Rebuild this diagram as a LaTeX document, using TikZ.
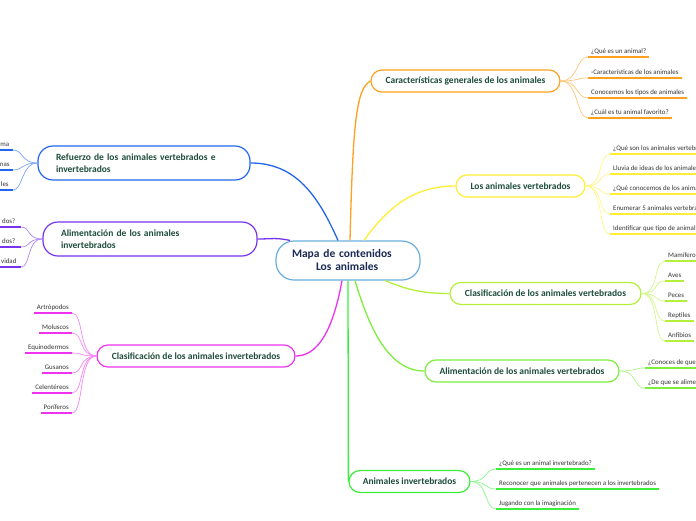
\documentclass[tikz,border=0pt]{standalone}
\usepackage{fontspec}
\setmainfont{Carlito}
\usepackage{tikz}

\definecolor{cBlue}{HTML}{2266EE}
\definecolor{cPurple}{HTML}{7733EE}
\definecolor{cMag}{HTML}{EE33EE}
\definecolor{cOrange}{HTML}{FFA01E}
\definecolor{cYellow}{HTML}{FFEE33}
\definecolor{cLime}{HTML}{B2F03A}
\definecolor{cLgreen}{HTML}{7CEE3C}
\definecolor{cGreen}{HTML}{3AEE3A}
\definecolor{cCenter}{HTML}{6AAEE0}
\definecolor{tGreen}{HTML}{1E4D3B}
\definecolor{tNavy}{HTML}{1B2A55}
\definecolor{tLeaf}{HTML}{333333}

\tikzset{
  rama/.style={draw=#1, line width=1.2pt, rounded corners=11pt, fill=white,
    minimum height=22pt, inner xsep=0pt, inner ysep=0pt,
    font=\fontsize{9.5}{12}\selectfont\bfseries, text=tGreen},
  rama2/.style={rama=#1, minimum height=34pt, inner xsep=18pt, align=left, rounded corners=15pt},
  centro/.style={draw=cCenter, line width=1.2pt, rounded corners=18pt, fill=white,
    minimum height=39pt, inner xsep=16pt, text width=112pt, align=left,
    font=\fontsize{11.5}{13}\selectfont\bfseries, text=tNavy},
  hoja/.style={inner xsep=3pt, inner ysep=1.5pt, text height=5pt, text depth=1.5pt,
    font=\fontsize{6.9}{8}\selectfont, text=tLeaf,
    append after command={(\tikzlastnode.south west) edge[draw=#1, line width=1.8pt] (\tikzlastnode.south east)}},
  tronco/.style={draw=#1, line width=1.3pt},
  rami/.style={draw=#1!60, line width=0.7pt}
}

\begin{document}
\begin{tikzpicture}[x=1pt,y=-1pt]
\useasboundingbox (0,0) rectangle (696,520);
\clip (0,0) rectangle (696,520);

%% centro y ramas
\node[centro] (mapa) at (348,260.5) {Mapa de contenidos\\\hspace*{24pt}Los animales};
\node[rama=cOrange, minimum width=189pt] (carac) at (465.5,81) {Características generales de los animales};
\node[rama=cYellow, minimum width=129pt] (vert) at (520.5,186) {Los animales vertebrados};
\node[rama=cLime, minimum width=191pt] (clasV) at (545.5,293.5) {Clasificación de los animales vertebrados};
\node[rama=cLgreen, minimum width=194pt] (alimV) at (522,371) {Alimentación de los animales vertebrados};
\node[rama=cGreen, minimum width=121pt] (invert) at (409.5,481.5) {Animales invertebrados};
\node[rama=cMag, minimum width=198pt] (clasI) at (196,356) {Clasificación de los animales invertebrados};
\node[rama2=cPurple, text width=178pt] (alimI) at (150,239) {Alimentación de los animales\\invertebrados};
\node[rama2=cBlue, text width=176pt] (refu) at (144,163) {Refuerzo de los animales vertebrados e\\invertebrados};

\draw[tronco=cBlue] ([xshift=-10pt]mapa.north) .. controls +(-20,-45) and +(45,0) .. (refu.east);
\draw[tronco=cPurple] ([xshift=-58pt]mapa.north) .. controls +(-15,-3) and +(15,0) .. (alimI.east);
\draw[tronco=cOrange] ([xshift=2pt]mapa.north) .. controls +(3,-120) and +(-14,8) .. (carac.west);
\draw[tronco=cYellow] ([xshift=16pt]mapa.north) .. controls +(25,-35) and +(-40,0) .. (vert.west);
\draw[tronco=cLime] ([xshift=37pt]mapa.south) .. controls +(20,8) and +(-30,0) .. (clasV.west);
\draw[tronco=cLgreen] ([xshift=7pt]mapa.south) .. controls +(15,50) and +(-35,0) .. (alimV.west);
\draw[tronco=cGreen] (mapa.south) -- (invert.west);
\draw[tronco=cMag] ([xshift=-6pt]mapa.south) .. controls +(-10,55) and +(20,0) .. (clasI.east);

%% hojas derecha
\node[hoja=cOrange, anchor=south west] (carac1) at (588,57) {¿Qué es un animal?};
\node[hoja=cOrange, anchor=south west] (carac2) at (588,78) {-Características de los animales};
\node[hoja=cOrange, anchor=south west] (carac3) at (588,98) {Conocemos los tipos de animales};
\node[hoja=cOrange, anchor=south west] (carac4) at (588,118) {¿Cuál es tu animal favorito?};
\foreach \h in {carac1,carac2,carac3,carac4}
  \draw[rami=cOrange] (carac.east) .. controls +(18,0) and +(-12,0) .. (\h.south west);

\node[hoja=cYellow, anchor=south west] (vert1) at (610,154) {¿Qué son los animales vertebrados?};
\node[hoja=cYellow, anchor=south west] (vert2) at (610,174) {Lluvia de ideas de los animales vertebrados};
\node[hoja=cYellow, anchor=south west] (vert3) at (610,194) {¿Qué conocemos de los animales vertebrados?};
\node[hoja=cYellow, anchor=south west] (vert4) at (610,214) {Enumerar 5 animales vertebrados};
\node[hoja=cYellow, anchor=south west] (vert5) at (610,234) {Identificar que tipo de animal es};
\foreach \h in {vert1,vert2,vert3,vert4,vert5}
  \draw[rami=cYellow] (vert.east) .. controls +(18,0) and +(-12,0) .. (\h.south west);

\node[hoja=cLime, anchor=south west] (clasV1) at (665,261) {Mamíferos};
\node[hoja=cLime, anchor=south west] (clasV2) at (665,281) {Aves};
\node[hoja=cLime, anchor=south west] (clasV3) at (665,301) {Peces};
\node[hoja=cLime, anchor=south west] (clasV4) at (665,321) {Reptiles};
\node[hoja=cLime, anchor=south west] (clasV5) at (665,341) {Anfibios};
\foreach \h in {clasV1,clasV2,clasV3,clasV4,clasV5}
  \draw[rami=cLime] (clasV.east) .. controls +(18,0) and +(-12,0) .. (\h.south west);

\node[hoja=cLgreen, anchor=south west] (alimV1) at (645,368) {¿Conoces de que se alimentan?};
\node[hoja=cLgreen, anchor=south west] (alimV2) at (645,388) {¿De que se alimentan?};
\foreach \h in {alimV1,alimV2}
  \draw[rami=cLgreen] (alimV.east) .. controls +(18,0) and +(-12,0) .. (\h.south west);

\node[hoja=cGreen, anchor=south west] (invert1) at (496,469) {¿Qué es un animal invertebrado?};
\node[hoja=cGreen, anchor=south west] (invert2) at (496,489) {Reconocer que animales pertenecen a los invertebrados};
\node[hoja=cGreen, anchor=south west] (invert3) at (496,509) {Jugando con la imaginación};
\foreach \h in {invert1,invert2,invert3}
  \draw[rami=cGreen] (invert.east) .. controls +(18,0) and +(-12,0) .. (\h.south west);

%% hojas izquierda
\node[hoja=cMag, anchor=south east] (clasI1) at (72,313) {Artrópodos};
\node[hoja=cMag, anchor=south east] (clasI2) at (72,333) {Moluscos};
\node[hoja=cMag, anchor=south east] (clasI3) at (72,353) {Equinodermos};
\node[hoja=cMag, anchor=south east] (clasI4) at (72,373) {Gusanos};
\node[hoja=cMag, anchor=south east] (clasI5) at (72,393) {Celentéreos};
\node[hoja=cMag, anchor=south east] (clasI6) at (72,413) {Poríferos};
\foreach \h in {clasI1,clasI2,clasI3,clasI4,clasI5,clasI6}
  \draw[rami=cMag] (clasI.west) .. controls +(-18,0) and +(12,0) .. (\h.south east);

\node[hoja=cPurple, anchor=south east, minimum width=24pt] (alimI1) at (21,227) {dos?};
\node[hoja=cPurple, anchor=south east, minimum width=24pt] (alimI2) at (21,247) {dos?};
\node[hoja=cPurple, anchor=south east, minimum width=24pt] (alimI3) at (21,267) {vidad};
\foreach \h in {alimI1,alimI2,alimI3}
  \draw[rami=cPurple] (alimI.west) .. controls +(-16,0) and +(10,0) .. (\h.south east);

\node[hoja=cBlue, anchor=south east, minimum width=16pt] (refu1) at (13,150) {ma};
\node[hoja=cBlue, anchor=south east, minimum width=16pt] (refu2) at (13,170) {nas};
\node[hoja=cBlue, anchor=south east, minimum width=16pt] (refu3) at (13,190) {les};
\foreach \h in {refu1,refu2,refu3}
  \draw[rami=cBlue] (refu.west) .. controls +(-16,0) and +(10,0) .. (\h.south east);
\end{tikzpicture}
\end{document}
